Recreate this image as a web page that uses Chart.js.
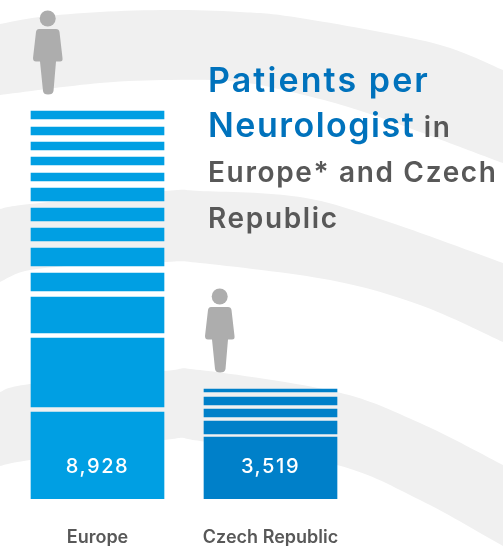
<!DOCTYPE html>
<html>
<head>
<meta charset="utf-8">
<style>
html,body{margin:0;padding:0;background:#fff;}
#wrap{position:relative;width:503px;height:546px;overflow:hidden;}
#title div{position:absolute;left:208px;white-space:nowrap;font-family:Inter,sans-serif;font-weight:600;color:#585858;font-size:28px;line-height:40px;letter-spacing:1.65px;}
#title .blue{color:#0072bc;font-size:34px;font-weight:600;letter-spacing:2.1px;}
#title .tight{letter-spacing:1.5px;}
</style>
<script src="https://cdn.jsdelivr.net/npm/chart.js@4"></script>
</head>
<body>
<div id="wrap">
<canvas id="chart" width="503" height="546"></canvas>
<div id="title">
<div style="top:60px"><span class="blue">Patients per</span></div>
<div style="top:105px"><span class="blue tight">Neurologist</span> in</div>
<div style="top:152px">Europe* and Czech</div>
<div style="top:198px">Republic</div>
</div>
</div>
<script>
// bottom to top, stacked segments and the empty gaps between them
const categories=["Europe","Czech Republic"];
const valueLabels=["8,928","3,519"];
const europeSegments=[87,69,36,18,18,13,13,13,8,8,8,8,8];
const europeGaps=[5,5,6,7,7,7,7,7,8,7,7,8];
const czechSegments=[62,13,8,8,3];
const czechGaps=[3,4,4,5];
const barColors=["#009fe3","#0080c9"];

// background bands, upper edge then lower edge
const bands=[
 {top:[[0,24],[40,17],[100,12],[170,10],[240,12],[300,18],[433,43],[503,70]],
  bottom:[[0,95],[100,83],[170,80],[230,81],[283,90],[367,113],[503,163]]},
 {top:[[0,209],[30,204],[164,191],[200,191],[300,197],[383,220],[503,263]],
  bottom:[[0,282],[30,270],[100,264],[164,262],[200,263],[330,280],[420,305],[503,342]]},
 {top:[[0,392],[30,384],[164,371],[200,370],[337,392],[420,423],[503,465]],
  bottom:[[0,466],[30,460],[164,440],[200,441],[337,465],[420,500],[503,546]]}
];

function smoothLine(ctx,pts){
    for(let i=0;i<pts.length-1;i++){
        const p0=pts[Math.max(i-1,0)],p1=pts[i],p2=pts[i+1],p3=pts[Math.min(i+2,pts.length-1)];
        ctx.bezierCurveTo(
            p1[0]+(p2[0]-p0[0])/6,p1[1]+(p2[1]-p0[1])/6,
            p2[0]-(p3[0]-p1[0])/6,p2[1]-(p3[1]-p1[1])/6,
            p2[0],p2[1]);
    }
}

function drawPerson(ctx,dx,dy){
    ctx.fillStyle="#adadad";
    ctx.beginPath();
    ctx.arc(47.7+dx,17.5+dy,8,0,Math.PI*2);
    ctx.fill();
    ctx.beginPath();
    ctx.moveTo(39+dx,28+dy);
    ctx.lineTo(56+dx,28+dy);
    ctx.quadraticCurveTo(59+dx,28+dy,59.5+dx,31+dy);
    ctx.lineTo(62.5+dx,57+dy);
    ctx.quadraticCurveTo(63+dx,60.5+dy,60+dx,60.5+dy);
    ctx.lineTo(56+dx,60.5+dy);
    ctx.lineTo(53.5+dx,90+dy);
    ctx.quadraticCurveTo(53+dx,93.5+dy,48+dx,93.5+dy);
    ctx.quadraticCurveTo(43.5+dx,93.5+dy,43+dx,90+dy);
    ctx.lineTo(40+dx,60.5+dy);
    ctx.lineTo(36+dx,60.5+dy);
    ctx.quadraticCurveTo(33+dx,60.5+dy,33+dx,57+dy);
    ctx.lineTo(36+dx,31+dy);
    ctx.quadraticCurveTo(36.5+dx,28+dy,39+dx,28+dy);
    ctx.fill();
}

const backdrop={
    id:"backdrop",
    beforeDatasetsDraw(chart){
        const ctx=chart.ctx;
        ctx.save();
        ctx.fillStyle="#f0f0f0";
        bands.forEach(b=>{
            const back=b.bottom.slice().reverse();
            ctx.beginPath();
            ctx.moveTo(b.top[0][0],b.top[0][1]);
            smoothLine(ctx,b.top);
            ctx.lineTo(back[0][0],back[0][1]);
            smoothLine(ctx,back);
            ctx.closePath();
            ctx.fill();
        });
        drawPerson(ctx,0,1);
        drawPerson(ctx,172,279);
        ctx.restore();
    },
    afterDatasetsDraw(chart){
        const ctx=chart.ctx;
        ctx.save();
        ctx.fillStyle="#ffffff";
        ctx.font="500 20px Inter, sans-serif";
        ctx.letterSpacing="1.6px";
        ctx.textAlign="center";
        ctx.textBaseline="middle";
        valueLabels.forEach((t,i)=>{
            ctx.fillText(t,chart.scales.x.getPixelForTick(i),chart.scales.y.getPixelForValue(32));
        });
        ctx.restore();
    }
};

const datasets=[];
for(let i=0;i<europeSegments.length;i++){
    datasets.push({data:[europeSegments[i],czechSegments[i]??null],backgroundColor:barColors,barThickness:133,borderWidth:0});
    if(i<europeGaps.length){
        datasets.push({data:[europeGaps[i],czechGaps[i]??null],backgroundColor:"rgba(0,0,0,0)",barThickness:133,borderWidth:0});
    }
}

new Chart(document.getElementById("chart"),{
    type:"bar",
    data:{labels:categories,datasets:datasets},
    options:{
        responsive:false,
        animation:false,
        layout:{padding:{left:11,right:146,top:0,bottom:0}},
        plugins:{legend:{display:false},tooltip:{enabled:false}},
        scales:{
            x:{
                stacked:true,
                grid:{display:false,drawTicks:false},
                border:{display:false},
                afterFit(scale){scale.height=47;},
                ticks:{color:"#585858",padding:28,maxRotation:0,font:{family:"Inter, sans-serif",size:18,weight:"600"}}
            },
            y:{stacked:true,display:false,min:0,max:499}
        }
    },
    plugins:[backdrop]
});
</script>
</body>
</html>
